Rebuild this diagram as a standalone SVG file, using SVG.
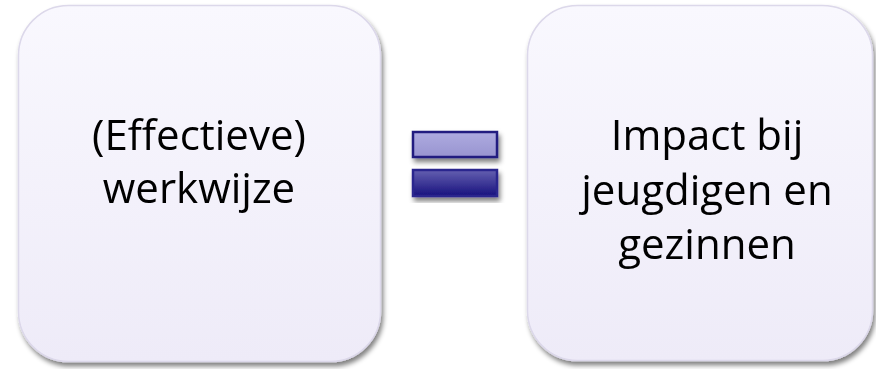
<svg xmlns="http://www.w3.org/2000/svg" width="876" height="369" viewBox="0 0 876 369">
<defs>
<linearGradient id="boxFill" x1="0" y1="0" x2="0" y2="1">
<stop offset="0" stop-color="#f9f8fe"/>
<stop offset="1" stop-color="#eeebf8"/>
</linearGradient>
<linearGradient id="barTop" x1="0" y1="0" x2="0" y2="1">
<stop offset="0" stop-color="#aeabe0"/>
<stop offset="1" stop-color="#9894d0"/>
</linearGradient>
<linearGradient id="barBot" x1="0" y1="0" x2="0" y2="1">
<stop offset="0" stop-color="#6460b0"/>
<stop offset="1" stop-color="#18127e"/>
</linearGradient>
<filter id="shadow" x="-10%" y="-10%" width="120%" height="120%">
<feGaussianBlur in="SourceAlpha" stdDeviation="2.5"/>
<feOffset dx="1.5" dy="3.5" result="b"/>
<feComponentTransfer><feFuncA type="linear" slope="0.5"/></feComponentTransfer>
<feMerge><feMergeNode/><feMergeNode in="SourceGraphic"/></feMerge>
</filter>
</defs>
<style>
.box{fill:url(#boxFill);stroke:#dcd8ea;stroke-width:1.5}
.lbl{font-family:"Open Sans","Liberation Sans",sans-serif;font-size:42px;fill:#000;text-anchor:middle}
.bar{stroke-width:2.5}
</style>
<rect width="876" height="369" fill="#ffffff"/>
<g id="node-werkwijze" filter="url(#shadow)">
<rect class="box" x="18.5" y="5.5" width="362" height="356" rx="50" ry="50"/>
<text class="lbl" x="199" y="150">(Effectieve)</text>
<text class="lbl" x="199" y="203">werkwijze</text>
</g>
<g id="node-equals" filter="url(#shadow)">
<rect class="bar" x="413" y="132" width="84" height="25" fill="url(#barTop)" stroke="#221c80"/>
<rect class="bar" x="413" y="170" width="84" height="26" fill="url(#barBot)" stroke="#2c268e"/>
</g>
<g id="node-impact" filter="url(#shadow)">
<rect class="box" x="527.5" y="5.5" width="345" height="355" rx="50" ry="50"/>
<text class="lbl" x="707" y="150">Impact bij</text>
<text class="lbl" x="707" y="205">jeugdigen en</text>
<text class="lbl" x="707" y="259">gezinnen</text>
</g>
<g id="connectors"/>
</svg>
